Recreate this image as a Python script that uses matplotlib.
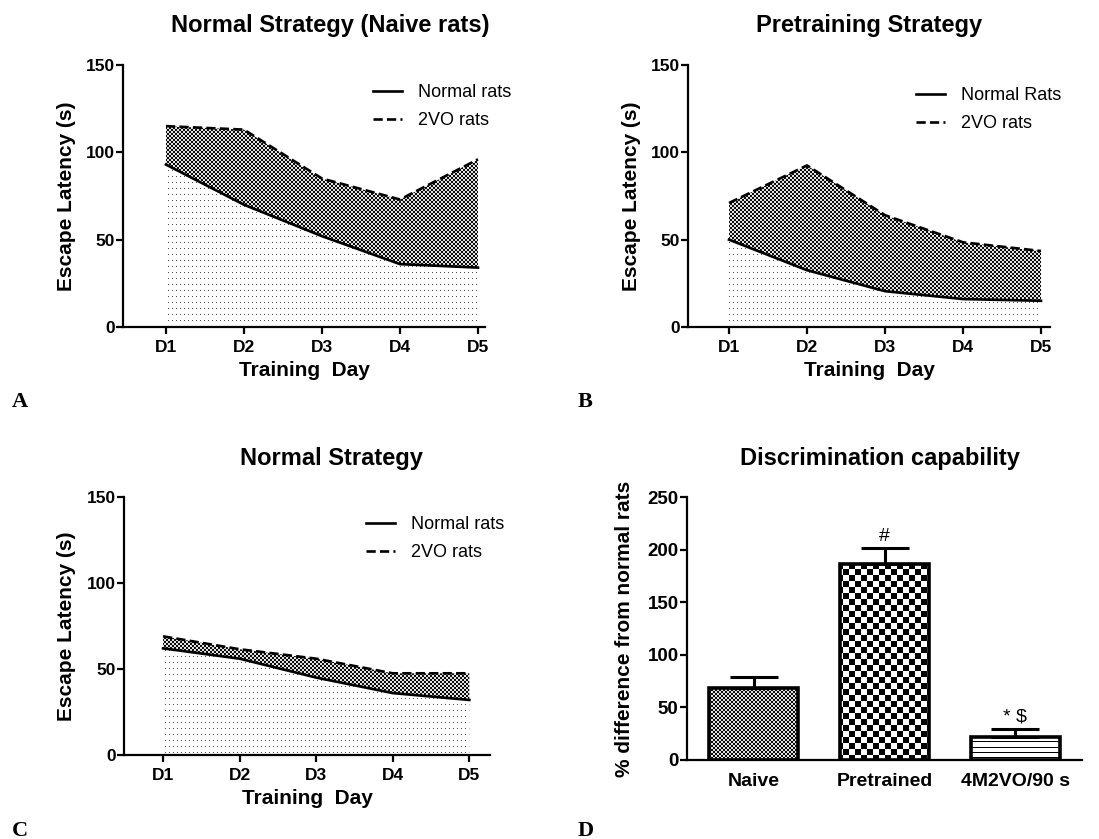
import numpy as np
import matplotlib
matplotlib.use("Agg")
import matplotlib.pyplot as plt
from matplotlib.lines import Line2D

# ---------------- data ----------------
days = ["D1", "D2", "D3", "D4", "D5"]

a_normal = [93, 70, 52, 36, 34]
a_2vo = [115, 113, 85, 73, 96]

b_normal = [50, 32.5, 20.5, 16, 15]
b_2vo = [71, 92.5, 64, 48.5, 43.5]

c_normal = [62, 56, 45, 36, 32]
c_2vo = [69, 61.5, 56, 47.5, 47.5]

d_groups = ["Naive", "Pretrained", "4M2VO/90 s"]
d_values = [68, 186, 22]
d_errors = [11, 15.5, 7.7]
d_annot = ["", "#", "* $"]

# ---------------- helpers ----------------
W, H = 1099, 839
fig = plt.figure(figsize=(W / 100, H / 100), dpi=100)
plt.rcParams['font.family'] = ['Liberation Sans', 'DejaVu Sans']


def fx(x):
    return x / W


def fy(y):
    return 1 - y / H


def make_axes(left, right, top, bottom):
    return fig.add_axes([fx(left), fy(bottom), (right - left) / W, (bottom - top) / H])


def pattern(ax, kind):
    pos = ax.get_position()
    w = int(round(pos.width * W))
    h = int(round(pos.height * H))
    i, j = np.mgrid[0:h, 0:w]
    arr = np.ones((h, w))
    if kind == "dots":
        arr[(i % 6 == 3) & (j % 4 == 1)] = 0.3
    elif kind == "fine":
        arr = np.where(((i // 2 + j // 2) % 2) == 0, 0.05, 0.88)
    elif kind == "coarse":
        arr = np.where(((i // 6 + j // 6) % 2) == 0, 0.0, 1.0)
    elif kind == "stripes":
        arr[(i % 5) == 0] = 0.0
    return arr


def pattern_image(ax, kind, clip, transform=None, zorder=1):
    x0, x1 = ax.get_xlim()
    y0, y1 = ax.get_ylim()
    im = ax.imshow(pattern(ax, kind), cmap="gray", vmin=0, vmax=1,
                   extent=(x0, x1, y0, y1), aspect="auto",
                   interpolation="nearest", origin="upper", zorder=zorder)
    if transform is None:
        im.set_clip_path(clip)
    else:
        im.set_clip_path(clip, transform)
    ax.set_xlim(x0, x1)
    ax.set_ylim(y0, y1)
    return im


def style_axes(ax, labelsize=12.5):
    for s in ["top", "right"]:
        ax.spines[s].set_visible(False)
    for s in ["left", "bottom"]:
        ax.spines[s].set_linewidth(1.6)
    ax.tick_params(axis="both", length=5, width=1.6, labelsize=labelsize)
    ax.tick_params(axis="y", pad=1)
    ax.tick_params(axis="x", pad=4)
    for lab in ax.get_xticklabels() + ax.get_yticklabels():
        lab.set_fontweight("bold")


def line_panel(ax, normal, vo, xlim):
    x = np.arange(len(days))
    ax.set_xlim(*xlim)
    ax.set_ylim(0, 150)
    p_low = ax.fill_between(x, 0, normal, facecolor="none", edgecolor="none")
    p_up = ax.fill_between(x, normal, vo, facecolor="none", edgecolor="none")
    pattern_image(ax, "dots", p_low.get_paths()[0], ax.transData)
    pattern_image(ax, "fine", p_up.get_paths()[0], ax.transData)
    ax.plot(x, normal, color="black", lw=1.9, zorder=3, solid_joinstyle="round")
    ax.plot(x, vo, color="black", lw=1.9, ls=(0, (3.5, 1.6)), zorder=3)
    ax.set_xticks(x)
    ax.set_xticklabels(days)
    ax.set_yticks([0, 50, 100, 150])
    ax.set_xlabel("Training  Day", fontsize=15, fontweight="bold", labelpad=5)
    ax.set_ylabel("Escape Latency (s)", fontsize=15, fontweight="bold", va="center")
    style_axes(ax)
    handles = [Line2D([], [], color="black", lw=1.9),
               Line2D([], [], color="black", lw=1.9, ls=(0, (3.5, 1.6)))]
    return handles


leg_kw = dict(loc="upper left", frameon=False, bbox_transform=fig.transFigure,
              fontsize=13, handlelength=1.6, handletextpad=0.9, labelspacing=0.62,
              borderpad=0, borderaxespad=0)

# ---------------- Panel A ----------------
axA = make_axes(123, 485, 65, 327)
h = line_panel(axA, a_normal, a_2vo, (-0.551, 4.09))
axA.yaxis.set_label_coords(-0.155, 0.5)
axA.legend(h, ["Normal rats", "2VO rats"], bbox_to_anchor=(fx(373), fy(84)), **leg_kw)

# ---------------- Panel B ----------------
axB = make_axes(688, 1050, 65, 327)
h = line_panel(axB, b_normal, b_2vo, (-0.526, 4.115))
axB.yaxis.set_label_coords(-0.157, 0.5)
axB.legend(h, ["Normal Rats", "2VO rats"], bbox_to_anchor=(fx(916), fy(87)), **leg_kw)

# ---------------- Panel C ----------------
axC = make_axes(124, 490, 497, 755)
h = line_panel(axC, c_normal, c_2vo, (-0.51, 4.27))
axC.yaxis.set_label_coords(-0.156, 0.5)
axC.legend(h, ["Normal rats", "2VO rats"], bbox_to_anchor=(fx(366), fy(516)), **leg_kw)

# ---------------- Panel D ----------------
axD = make_axes(687, 1082, 497, 760)
xd = np.arange(len(d_groups))
axD.set_xlim(-0.51, 2.51)
axD.set_ylim(0, 250)
bars = axD.bar(xd, d_values, width=0.68, color="white", edgecolor="none", zorder=1)
for rect, kind in zip(bars, ["fine", "coarse", "stripes"]):
    pattern_image(axD, kind, rect, zorder=1.5)
axD.bar(xd, d_values, width=0.68, fill=False, edgecolor="black", linewidth=2.6, zorder=3)
axD.errorbar(xd, d_values, yerr=[np.zeros(len(d_errors)), d_errors], fmt="none",
             ecolor="black", elinewidth=2.2, capsize=17, capthick=2.2, zorder=2.5)
for xi, v, e, t in zip(xd, d_values, d_errors, d_annot):
    if t:
        axD.text(xi, v + e + 3, t, ha="center", va="bottom", fontsize=14)
axD.set_xticks(xd)
axD.set_xticklabels(d_groups)
axD.set_yticks([0, 50, 100, 150, 200, 250])
axD.set_ylabel("% difference from normal rats", fontsize=15, fontweight="bold", va="center")
style_axes(axD, labelsize=13.5)
axD.tick_params(axis="x", length=0, pad=9, labelsize=14)
axD.yaxis.set_label_coords(-0.157, 0.5)

# ---------------- titles & letters ----------------
title_kw = dict(fontsize=17, fontweight="bold", ha="center", va="baseline")
fig.text(fx(330), fy(32), "Normal Strategy (Naive rats)", **title_kw)
fig.text(fx(869), fy(32), "Pretraining Strategy", **title_kw)
fig.text(fx(331), fy(465), "Normal Strategy", **title_kw)
fig.text(fx(880), fy(465), "Discrimination capability", **title_kw)

letter_kw = dict(fontsize=16, fontweight="bold", family="Liberation Serif",
                 ha="left", va="baseline")
fig.text(fx(12), fy(407), "A", **letter_kw)
fig.text(fx(578), fy(407), "B", **letter_kw)
fig.text(fx(12), fy(836), "C", **letter_kw)
fig.text(fx(578), fy(836), "D", **letter_kw)

fig.savefig("out.png", dpi=100, facecolor="white")
